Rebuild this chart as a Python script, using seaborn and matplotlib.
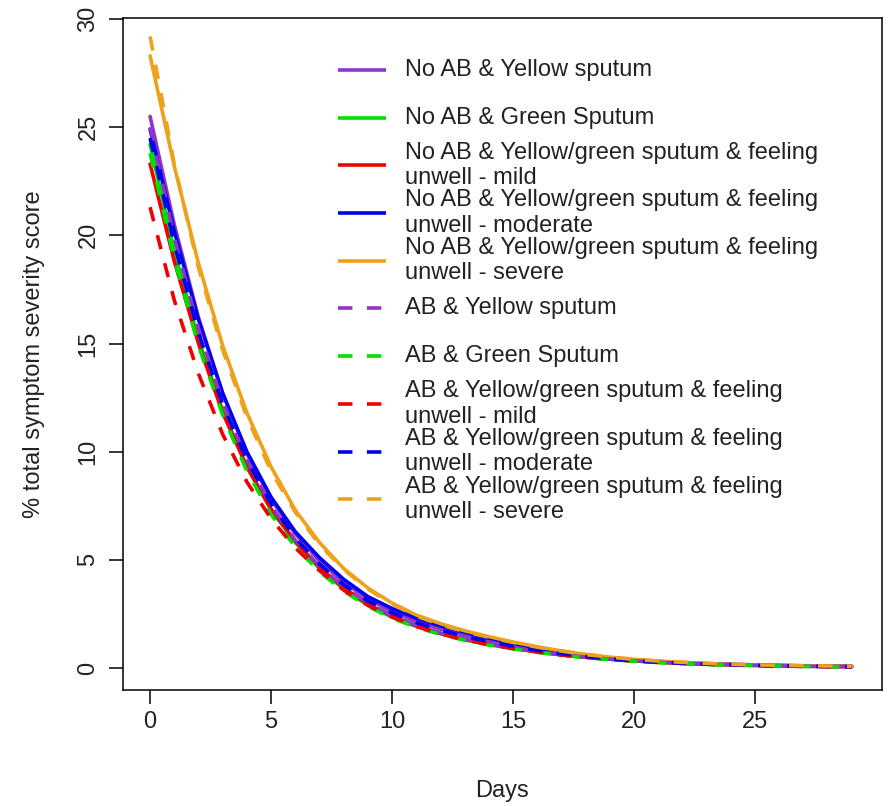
import matplotlib
matplotlib.use("Agg")
import matplotlib.pyplot as plt
import seaborn as sns
import numpy as np
import pandas as pd

days = list(range(30))

no_ab_yellow = [25.5, 20.5, 16.2, 12.7, 9.9, 7.8, 6.2, 4.95, 3.95, 3.2, 2.6, 2.15, 1.8, 1.5, 1.25, 1.05, 0.86, 0.7, 0.56, 0.45, 0.36, 0.29, 0.23, 0.19, 0.16, 0.13, 0.11, 0.09, 0.08, 0.07]
no_ab_green = [24.2, 19.3, 15.2, 11.9, 9.3, 7.3, 5.8, 4.6, 3.65, 2.9, 2.35, 1.92, 1.58, 1.3, 1.08, 0.9, 0.74, 0.6, 0.49, 0.4, 0.32, 0.26, 0.21, 0.17, 0.14, 0.12, 0.1, 0.08, 0.07, 0.06]
no_ab_mild = [23.3, 18.8, 15.0, 11.8, 9.3, 7.35, 5.85, 4.65, 3.7, 2.95, 2.4, 1.95, 1.6, 1.32, 1.1, 0.91, 0.75, 0.61, 0.5, 0.41, 0.33, 0.27, 0.22, 0.18, 0.15, 0.12, 0.1, 0.08, 0.07, 0.06]
no_ab_moderate = [24.9, 20.2, 16.1, 12.7, 10.0, 7.9, 6.3, 5.1, 4.1, 3.3, 2.75, 2.3, 1.95, 1.65, 1.38, 1.15, 0.92, 0.74, 0.58, 0.46, 0.37, 0.3, 0.24, 0.2, 0.17, 0.14, 0.12, 0.1, 0.09, 0.08]
no_ab_severe = [28.3, 23.2, 18.7, 14.9, 11.8, 9.3, 7.3, 5.8, 4.6, 3.7, 3.0, 2.45, 2.05, 1.72, 1.45, 1.2, 0.98, 0.79, 0.63, 0.5, 0.4, 0.32, 0.26, 0.21, 0.17, 0.14, 0.12, 0.1, 0.09, 0.08]
ab_yellow = [25.0, 19.9, 15.7, 12.3, 9.6, 7.5, 5.9, 4.7, 3.75, 3.0, 2.42, 1.97, 1.62, 1.34, 1.11, 0.92, 0.76, 0.62, 0.5, 0.41, 0.33, 0.27, 0.22, 0.18, 0.15, 0.12, 0.1, 0.08, 0.07, 0.06]
ab_green = [23.8, 18.9, 14.9, 11.7, 9.1, 7.1, 5.6, 4.45, 3.55, 2.85, 2.3, 1.88, 1.55, 1.28, 1.06, 0.88, 0.72, 0.59, 0.48, 0.39, 0.31, 0.25, 0.2, 0.16, 0.13, 0.11, 0.09, 0.07, 0.06, 0.05]
ab_mild = [21.3, 17.0, 13.6, 10.8, 8.6, 6.9, 5.55, 4.5, 3.6, 2.9, 2.35, 1.92, 1.58, 1.3, 1.08, 0.9, 0.74, 0.6, 0.49, 0.4, 0.32, 0.26, 0.21, 0.17, 0.14, 0.11, 0.09, 0.07, 0.06, 0.05]
ab_moderate = [24.5, 19.6, 15.5, 12.2, 9.6, 7.6, 6.0, 4.8, 3.85, 3.1, 2.55, 2.1, 1.75, 1.46, 1.22, 1.0, 0.82, 0.66, 0.53, 0.42, 0.34, 0.27, 0.22, 0.18, 0.15, 0.12, 0.1, 0.08, 0.07, 0.06]
ab_severe = [29.2, 23.3, 18.5, 14.7, 11.6, 9.1, 7.2, 5.7, 4.55, 3.65, 2.95, 2.4, 2.0, 1.68, 1.42, 1.18, 0.96, 0.78, 0.62, 0.5, 0.4, 0.32, 0.26, 0.21, 0.17, 0.14, 0.12, 0.1, 0.09, 0.08]

labels = [
    "No AB & Yellow sputum",
    "No AB & Green Sputum",
    "No AB & Yellow/green sputum & feeling\nunwell - mild",
    "No AB & Yellow/green sputum & feeling\nunwell - moderate",
    "No AB & Yellow/green sputum & feeling\nunwell - severe",
    "AB & Yellow sputum",
    "AB & Green Sputum",
    "AB & Yellow/green sputum & feeling\nunwell - mild",
    "AB & Yellow/green sputum & feeling\nunwell - moderate",
    "AB & Yellow/green sputum & feeling\nunwell - severe",
]
series = [no_ab_yellow, no_ab_green, no_ab_mild, no_ab_moderate, no_ab_severe,
          ab_yellow, ab_green, ab_mild, ab_moderate, ab_severe]
colors = ["#9035C8", "#00E000", "#F00000", "#0000F0", "#EDA21C"] * 2
dashed = [False] * 5 + [True] * 5

x_ticks = [0, 5, 10, 15, 20, 25]
y_ticks = [0, 5, 10, 15, 20, 25, 30]

sns.set_theme(style="white")
plt.rcParams["font.family"] = ["Liberation Sans", "DejaVu Sans"]

fig = plt.figure(figsize=(8.88, 8.06), dpi=100)
ax = fig.add_axes([0.1385, 0.1439, 0.8547, 0.8338])

LW = 2.6
for vals, lab, col, d in zip(series, labels, colors, dashed):
    df = pd.DataFrame({"Days": days, "score": vals})
    sns.lineplot(data=df, x="Days", y="score", ax=ax, color=col, lw=LW,
                 legend=False)
    if d:
        ax.lines[-1].set_dashes((4, 4))
        ax.lines[-1].set_dash_capstyle("butt")

ax.set_xlim(-1.12, 30.25)
ax.set_ylim(-1.02, 30.05)
ax.set_xticks(x_ticks)
ax.set_yticks(y_ticks)
FS = 17
ax.tick_params(axis="both", direction="out", length=10, width=1.1, colors="black",
               labelsize=FS, bottom=True, left=True, pad=5)
ax.tick_params(axis="y", pad=7)
for lbl in ax.get_yticklabels():
    lbl.set_rotation(90)
    lbl.set_va("center")
for lbl in ax.get_xticklabels() + ax.get_yticklabels():
    lbl.set_color("#222222")
for s in ax.spines.values():
    s.set_visible(True)
    s.set_color("black")
    s.set_linewidth(1.1)
ax.set_xlabel("Days", fontsize=FS, color="#222222", labelpad=34)
ax.set_ylabel("% total symptom severity score", fontsize=FS, color="#222222", labelpad=23)
ax.grid(False)

# manual R-style legend (uniform row spacing)
y0_px, step_px = 70, 47.7
for i, (lab, col, d) in enumerate(zip(labels, colors, dashed)):
    py = y0_px + step_px * i
    fy = 1 - (py - 18) / 672
    ls = (0, (4, 4)) if d else "-"
    ax.plot([0.283, 0.3465], [fy, fy], transform=ax.transAxes, color=col,
            lw=LW, linestyle=ls, solid_capstyle="butt", dash_capstyle="butt",
            clip_on=False)
    ax.text(0.3715, fy, lab, transform=ax.transAxes, fontsize=FS, va="center",
            ha="left", color="#222222", linespacing=1.2)

fig.savefig("out.png", dpi=100)
